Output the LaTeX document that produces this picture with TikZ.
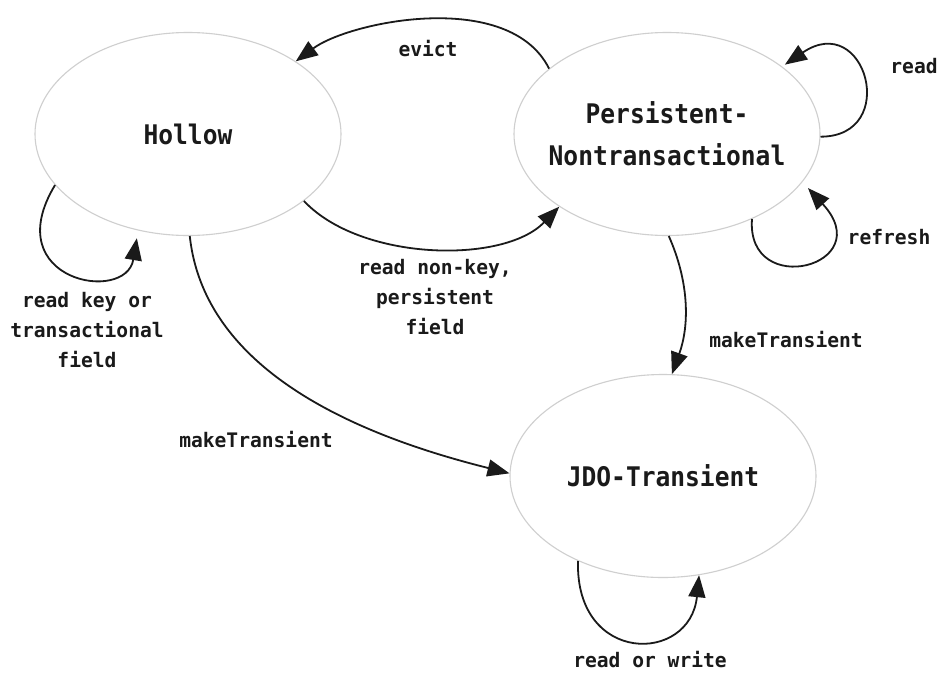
\documentclass[tikz,border=0pt]{standalone}
\usepackage{fontspec}
\usetikzlibrary{shapes.geometric,arrows.meta}
\newfontfamily\statefont[FakeStretch=0.91]{DejaVu Sans Mono}
\newfontfamily\edgefont[FakeStretch=0.98]{DejaVu Sans Mono}
\definecolor{ink}{HTML}{1A1A1A}
\definecolor{rim}{HTML}{CFCFCF}

\begin{document}
\begin{tikzpicture}[x=1pt,y=-1pt,
  state/.style={ellipse, draw=rim, line width=1.1pt,
    minimum width=306pt, minimum height=203pt, inner sep=0pt},
  statetext/.style={font=\statefont\bfseries\fontsize{27}{42}\selectfont,
    text=ink, align=center},
  edgetext/.style={font=\edgefont\bfseries\fontsize{20}{30}\selectfont,
    text=ink, align=center, inner sep=0pt},
  trans/.style={draw=ink, line width=1.8pt,
    -{Triangle[length=22pt,width=17pt]}},
]
\path[use as bounding box, fill=white] (0,0) rectangle (941,673);

% states
\node[state, label={[statetext]center:Hollow}] (H) at (188,134) {};
\node[state, label={[statetext]center:Persistent-\\Nontransactional}] (P) at (667,134) {};
\node[state, label={[statetext]center:JDO-Transient}] (J) at (663,476) {};

% transitions between states
\draw[trans] (P.151) .. controls +(-40,-80) and +(54,-40) .. (H.34);
\draw[trans] (H.-30) .. controls +(56,60) and +(-56,58) .. (P.214);
\draw[trans] (H.-89) .. controls +(15,140) and +(-140,-35) .. (J.179);
\draw[trans] (P.-89) .. controls +(20,45) and +(18,-50) .. (J.85);

% self loops
\draw[trans] (H.201) .. controls +(-58,96) and +(-11,66) .. ([yshift=-8pt]H.242);
\draw[trans] (P.-1) .. controls +(80,0) and +(81,-55) .. ([yshift=4pt]P.29);
\draw[trans] (P.-45) .. controls +(-6,81) and +(72,78) .. ([shift={(8pt,-3pt)}]P.-21);
\draw[trans] (J.225) .. controls +(-3,104) and +(-9,89) .. (J.-70);

% transition labels
\node[edgetext] (lEvict) at (428,49) {evict};
\node[edgetext] (lRead) at (914,66) {read};
\node[edgetext] (lRefresh) at (889,237) {refresh};
\node[edgetext] (lMakeP) at (786,340) {makeTransient};
\node[edgetext] (lNonKey) at (435,297) {read non-key,\\persistent\\field};
\node[edgetext] (lKey) at (87,330) {read key or\\transactional\\field};
\node[edgetext] (lMakeH) at (256,440) {makeTransient};
\node[edgetext] (lRW) at (650,659) {read or write};
\end{tikzpicture}
\end{document}
